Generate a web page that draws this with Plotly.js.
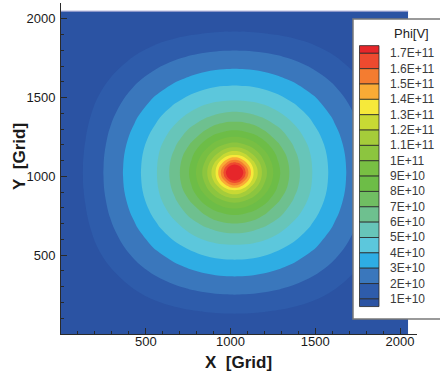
<!DOCTYPE html>
<html>
<head>
<meta charset="utf-8">
<script src="https://cdn.plot.ly/plotly-3.0.1.min.js"></script>
<style>
html,body{margin:0;padding:0;background:#fff;}
#chart{width:440px;height:374px;}
</style>
</head>
<body>
<div id="chart"></div>
<script>
// Grid centre and the offsets from it (grid units) at which Phi was read
const centre = 1024;
const offsets = [1024, 880, 736, 592, 464, 352, 256, 176, 112, 64, 28, 0];

// Phi in units of 1E10 V, read on one quadrant (rows = x offset, cols = y offset, both following `offsets`).
// The field is mirror-symmetric about the centre, so the other quadrants reuse these readings.
const phiQuarter = [
  [0, 0,    0,    0,    0,    0,    0,    0,     0,     0,     0,     0    ],
  [0, 0.05, 0.10, 0.24, 0.57, 0.79, 0.94, 1.03,  1.08,  1.11,  1.11,  1.12 ],
  [0, 0.10, 0.45, 1.02, 1.50, 1.83, 2.06, 2.19,  2.27,  2.30,  2.31,  2.32 ],
  [0, 0.24, 1.02, 1.80, 2.40, 2.85, 3.18, 3.39,  3.51,  3.56,  3.58,  3.59 ],
  [0, 0.57, 1.50, 2.40, 3.16, 3.80, 4.28, 4.61,  4.80,  4.88,  4.91,  4.92 ],
  [0, 0.79, 1.83, 2.85, 3.80, 4.65, 5.36, 5.89,  6.22,  6.38,  6.45,  6.46 ],
  [0, 0.94, 2.06, 3.18, 4.28, 5.36, 6.36, 7.14,  7.75,  8.06,  8.20,  8.24 ],
  [0, 1.03, 2.19, 3.39, 4.61, 5.89, 7.14, 8.43,  9.44,  10.03, 10.33, 10.40],
  [0, 1.08, 2.27, 3.51, 4.80, 6.22, 7.75, 9.44,  11.00, 12.19, 12.84, 13.00],
  [0, 1.11, 2.30, 3.56, 4.88, 6.38, 8.06, 10.03, 12.19, 14.23, 15.70, 16.14],
  [0, 1.11, 2.31, 3.58, 4.91, 6.45, 8.20, 10.33, 12.84, 15.70, 17.83, 18.60],
  [0, 1.12, 2.32, 3.59, 4.92, 6.46, 8.24, 10.40, 13.00, 16.14, 18.60, 20.00]
];

// Contour levels (1E10 V units) and legend labels (top to bottom)
const levelStart = 1, levelEnd = 17, levelStep = 1;
const levelLabels = ['1.7E+11','1.6E+11','1.5E+11','1.4E+11','1.3E+11','1.2E+11','1.1E+11','1E+11',
  '9E+10','8E+10','7E+10','6E+10','5E+10','4E+10','3E+10','2E+10','1E+10'];

// Flood colours of the bands, lowest (<1E10) to highest (>1.7E11)
const bandColors = ['#2b53a3','#2e5cab','#3a77bc','#2eade4','#5cc7dc','#67c5b9','#6ec08f','#70be62',
  '#6dbd47','#78bf43','#8cc53f','#a5cc3a','#c8d934','#f6e93a','#f9ab35','#f47c30','#ee4a2f','#e6262a'];

const xTicks = [500, 1000, 1500, 2000];
const yTicks = [500, 1000, 1500, 2000];

// ---- build full grid by mirroring the quadrant ----
const nQ = offsets.length;
const coords = [];
const qIndex = [];
for (let i = 0; i < nQ; i++) { coords.push(centre - offsets[i]); qIndex.push(i); }
for (let i = nQ - 2; i >= 0; i--) { coords.push(centre + offsets[i]); qIndex.push(i); }
const z = qIndex.map(qy => qIndex.map(qx => phiQuarter[qx][qy]));

const colorscale = bandColors.map((c, i) => [i / (bandColors.length - 1), c]);

const FONT = 'Liberation Sans, Arial, Helvetica, sans-serif';

// pixel -> paper helpers for the legend box (plot area 61..417 x 3..334)
const L = 61, R = 23, T = 3, B = 40, W = 440, H = 374;
const pw = W - L - R, ph = H - T - B;
const px = v => (v - L) / pw;
const py = v => (H - B - v) / ph;

const shapes = [];
const annotations = [];

// data-zone top edge line
shapes.push({type:'line', xref:'x', yref:'y', x0: coords[0], x1: coords[coords.length-1],
  y0: coords[coords.length-1], y1: coords[coords.length-1], line:{color:'#8d93c9', width:1}, layer:'above'});

// legend box
shapes.push({type:'rect', xref:'paper', yref:'paper', x0:px(353), x1:px(447), y0:py(319), y1:py(19),
  fillcolor:'#ffffff', line:{color:'#7a7a7a', width:1.5}, layer:'above'});

// legend swatches
const swL = 359.5, swR = 379, firstLine = 53.3, step = 15.35;
const nB = bandColors.length;
for (let i = 0; i < nB; i++) {
  let top, bot;
  if (i === 0) { top = firstLine - step/2; bot = firstLine; }
  else if (i === nB - 1) { top = firstLine + (nB-2)*step; bot = top + step/2; }
  else { top = firstLine + (i-1)*step; bot = top + step; }
  shapes.push({type:'rect', xref:'paper', yref:'paper', x0:px(swL), x1:px(swR), y0:py(bot), y1:py(top),
    fillcolor: bandColors[nB - 1 - i], line:{color:'#2a2a2a', width:0.8}, layer:'above'});
}
levelLabels.forEach((t, k) => {
  annotations.push({xref:'paper', yref:'paper', x:px(387.5), y:py(firstLine + k*step), xanchor:'left', yanchor:'middle',
    text:t, showarrow:false, font:{family:FONT, size:12, color:'#3a3a3a'}});
});
annotations.push({xref:'paper', yref:'paper', x:px(411.5), y:py(33), xanchor:'center', yanchor:'middle',
  text:'Phi[V]', showarrow:false, font:{family:FONT, size:13, color:'#222'}});

// axis titles
annotations.push({xref:'paper', yref:'paper', x:px(238), y:py(362), xanchor:'center', yanchor:'middle',
  text:'<b>X\u00a0\u00a0[Grid]</b>', showarrow:false, font:{family:FONT, size:17, color:'#1a1a1a'}});
annotations.push({xref:'paper', yref:'paper', x:px(19), y:py(157), xanchor:'center', yanchor:'middle', textangle:-90,
  text:'<b>Y\u00a0\u00a0[Grid]</b>', showarrow:false, font:{family:FONT, size:17, color:'#1a1a1a'}});

const trace = {
  type:'contour', x: coords, y: coords, z: z,
  autocontour:false,
  contours:{start:levelStart, end:levelEnd, size:levelStep, coloring:'fill', showlines:false},
  line:{width:0, smoothing:1},
  colorscale: colorscale, showscale:false, hoverinfo:'skip'
};

const axisCommon = {
  range:[0, 2100], showgrid:false, zeroline:false, showline:true, linecolor:'#2a2a2a', linewidth:1,
  ticks:'inside', ticklen:6, tickwidth:1, tickcolor:'#2a2a2a', tickmode:'array',
  tickfont:{family:FONT, size:13, color:'#1a1a1a'},
  minor:{ticks:'inside', ticklen:3, tickcolor:'#2a2a2a', tickmode:'linear', tick0:0, dtick:100},
  layer:'above traces', mirror:false, fixedrange:true
};

const layout = {
  width:W, height:H, margin:{l:L, r:R, t:T, b:B},
  paper_bgcolor:'#ffffff', plot_bgcolor:'#ffffff',
  xaxis: Object.assign({}, axisCommon, {tickvals:xTicks, ticktext:xTicks.map(String), ticklabelstandoff:-5}),
  yaxis: Object.assign({}, axisCommon, {tickvals:yTicks, ticktext:yTicks.map(String), ticklabelstandoff:2}),
  shapes: shapes, annotations: annotations, showlegend:false
};

Plotly.newPlot('chart', [trace], layout, {staticPlot:true, displayModeBar:false});
</script>
</body>
</html>
